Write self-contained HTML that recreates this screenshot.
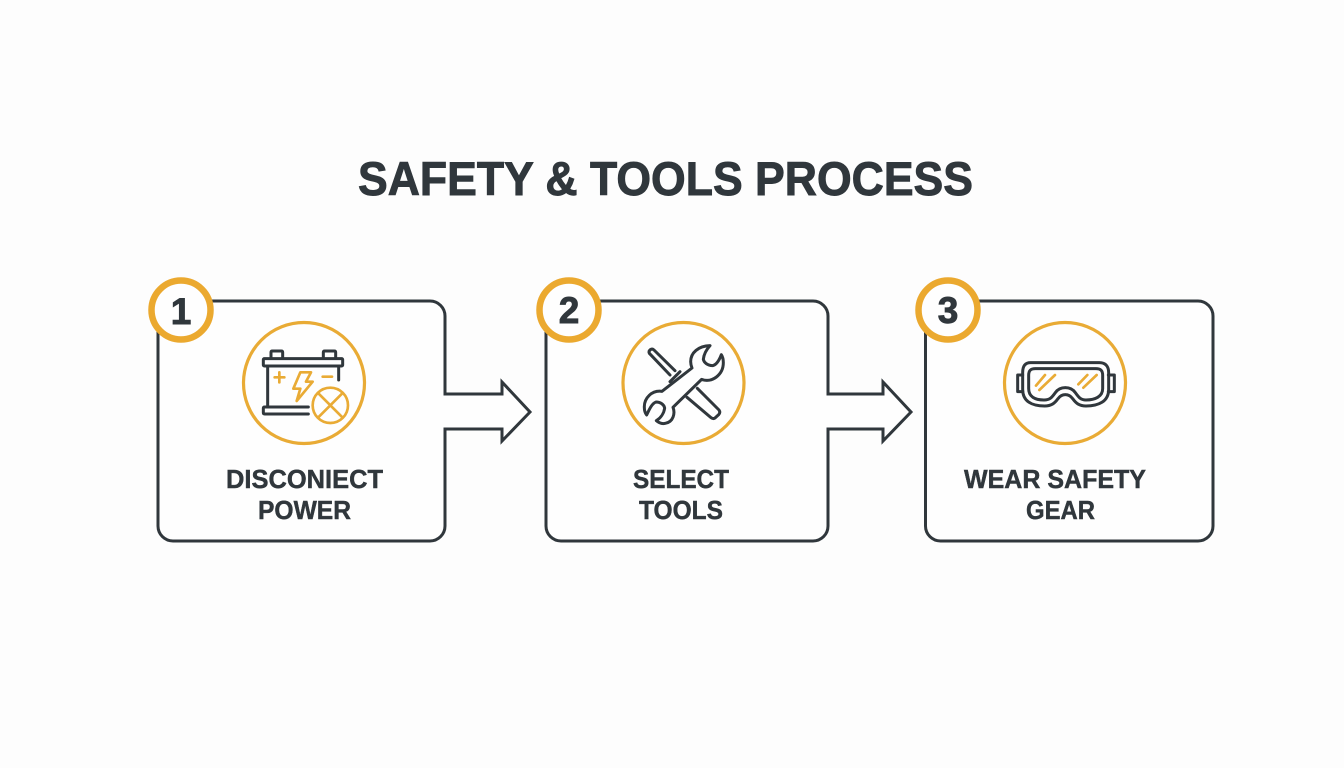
<!DOCTYPE html>
<html lang="en">
<head>
<meta charset="utf-8">
<title>Safety &amp; Tools Process</title>
<style>
html,body{margin:0;padding:0;background:#fdfdfd;width:1344px;height:768px;overflow:hidden}
svg{display:block}
text{font-family:"Liberation Sans",Arial,sans-serif;font-weight:700;fill:#30373c;stroke:#30373c}
.t{stroke-width:.9}
.l{stroke-width:.45}
.n{stroke-width:.9}
.box{fill:#fefefe;stroke:#30373c;stroke-width:3}
.arrow{fill:#fefefe;stroke:#30373c;stroke-width:3;stroke-linejoin:miter}
.ring{fill:#fefefe;stroke:#e9ab35;stroke-width:3.2}
.badge{fill:#fefefe;stroke:#eba92f;stroke-width:6.5}
.ik{fill:none;stroke:#30373c;stroke-width:9;stroke-linejoin:round;stroke-linecap:round}
.iy{fill:none;stroke:#e9ab35;stroke-width:8;stroke-linejoin:round;stroke-linecap:round}
</style>
</head>
<body>
<svg width="1344" height="768" viewBox="0 0 1344 768" xmlns="http://www.w3.org/2000/svg">
<rect width="1344" height="768" fill="#fdfdfd"/>
<text class="t" x="358" y="195" font-size="47" textLength="615" lengthAdjust="spacingAndGlyphs">SAFETY &amp; TOOLS PROCESS</text>

<!-- connectors -->
<path class="arrow" d="M445 394H502V382L530 412L502 441V429H445"/>
<path class="arrow" d="M828 394H883V382L911 412L883 441V429H828"/>

<!-- cards -->
<rect class="box" x="158" y="301" width="287" height="240" rx="15"/>
<rect class="box" x="546" y="301" width="282" height="240" rx="15"/>
<rect class="box" x="925.500" y="301" width="287.500" height="240" rx="15"/>

<path class="arrow" style="stroke:none" d="M442 395.500H447V427.500H442Z"/>
<path class="arrow" style="stroke:none" d="M825 395.500H830V427.500H825Z"/>

<!-- badges -->
<circle class="badge" cx="181" cy="310" r="29.500"/>
<circle class="badge" cx="569" cy="310" r="29.500"/>
<circle class="badge" cx="948" cy="310" r="29.500"/>
<text class="n" x="181" y="324" font-size="37" text-anchor="middle">1</text>
<text class="n" x="569" y="323" font-size="37" text-anchor="middle">2</text>
<text class="n" x="948" y="323" font-size="37" text-anchor="middle">3</text>

<!-- icon rings -->
<circle class="ring" cx="304" cy="383" r="60.500"/>
<circle class="ring" cx="683.500" cy="383" r="60.500"/>
<circle class="ring" cx="1065" cy="383" r="60.500"/>

<!-- battery -->
<g transform="translate(240 320) scale(.33333)">
  <path class="ik" d="M93 115V97Q93 93 97 93H124Q128 93 128 97V115M250 115V97Q250 93 254 93H283Q287 93 287 97V115"/>
  <rect class="ik" x="70" y="116" width="238" height="22" rx="3"/>
  <path class="ik" d="M83 138V260M296 138V180"/>
  <path class="ik" d="M205 261H74Q70 261 70 265V278Q70 282 74 282H205"/>
  <path class="iy" d="M104 172H133M118 157V187M248 170H276"/>
  <path class="iy" d="M181 157H213L198 185H218L170 243L181 206H160Z"/>
  <circle class="iy" cx="271" cy="256" r="53"/>
  <path class="iy" d="M235 220L307 292M307 220L235 292"/>
</g>

<!-- tools -->
<g transform="translate(620 320) scale(.33333)">
  <path class="ik" d="M150 165L88 100Q85 94 91 89Q97 85 102 90L165 152"/>
  <path class="ik" d="M180 155L150 185"/>
  <path class="ik" d="M232 205L297 270Q302 277 296 284L285 294Q279 298 272 292L201 232"/>
  <path class="ik" d="M270 77C235 78 212 98 212 125C212 133 214 139 216 144L126 214C95 210 72 235 73 262C73 272 76 280 80 285C88 268 96 250 108 246C122 246 132 254 134 264C132 280 122 294 109 302C118 310 128 312 136 310C160 306 166 280 159 262L245 178C275 190 310 165 310 128C310 118 308 110 304 104C298 120 290 134 278 137C262 136 252 128 250 118C252 100 260 88 270 77Z"/>
</g>

<!-- goggles -->
<g transform="translate(1000 320) scale(.33333)">
  <path class="ik" d="M68 165H53V215H68M325 165H343V215H325"/>
  <path class="ik" d="M92 128H298C318 128 326 140 326 158V208C326 245 295 258 258 258C238 258 228 250 218 236C206 220 186 220 174 236C164 250 154 258 134 258C97 258 68 245 68 208V158C68 140 74 128 92 128Z"/>
  <path class="ik" d="M106 146H288C302 146 308 152 308 166V206C308 230 285 240 258 240C242 240 236 232 226 218C212 198 180 198 166 218C156 232 150 240 132 240C105 240 86 230 86 206V166C86 152 92 146 106 146Z"/>
  <path class="iy" d="M108 197L135 165M118 210L165 165M235 193L262 165M250 203L290 165"/>
</g>

<!-- labels -->
<text class="l" x="226" y="488" font-size="26" textLength="157" lengthAdjust="spacingAndGlyphs">DISCONIECT</text>
<text class="l" x="258" y="519" font-size="26" textLength="93" lengthAdjust="spacingAndGlyphs">POWER</text>
<text class="l" x="633" y="488" font-size="26" textLength="96" lengthAdjust="spacingAndGlyphs">SELECT</text>
<text class="l" x="639" y="519" font-size="26" textLength="84" lengthAdjust="spacingAndGlyphs">TOOLS</text>
<text class="l" x="964" y="488" font-size="26" textLength="182" lengthAdjust="spacingAndGlyphs">WEAR SAFETY</text>
<text class="l" x="1026" y="519" font-size="26" textLength="69" lengthAdjust="spacingAndGlyphs">GEAR</text>
</svg>
</body>
</html>
